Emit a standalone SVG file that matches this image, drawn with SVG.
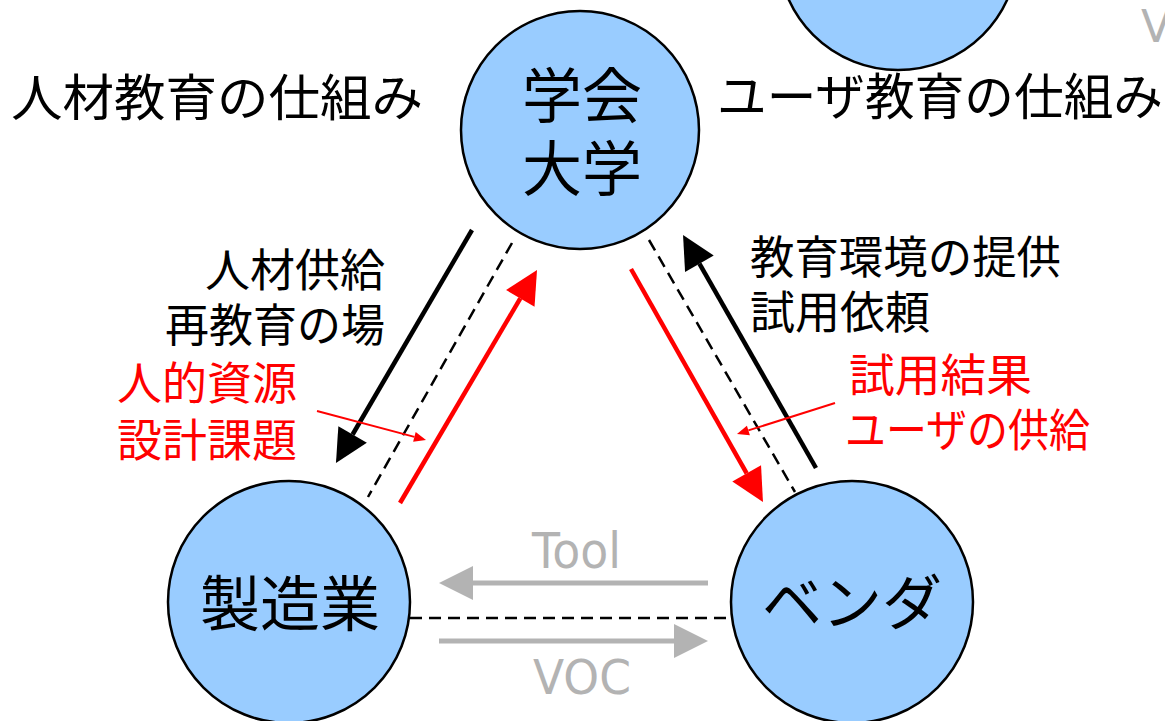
<svg xmlns="http://www.w3.org/2000/svg" width="1165" height="721" viewBox="0 0 1165 721">
<style>
.node{fill:#99CCFF;stroke:#000;stroke-width:2.5}
.jp{font-family:"Noto Sans CJK JP","Noto Sans",sans-serif}
.big{font-size:60px;fill:#000}
.title{font-size:50px;fill:#000}
.lbl{font-size:45px;fill:#000}
.red{fill:#FF0000}
.lat{font-family:"DejaVu Sans","Liberation Sans",sans-serif;fill:#B3B3B3}
.dash{stroke:#000;stroke-width:2.5;stroke-dasharray:12 7;fill:none}
.blk{stroke:#000;stroke-width:4.5;fill:none}
.rdk{stroke:#FF0000;stroke-width:4.5;fill:none}
.rdt{stroke:#FF0000;stroke-width:2;fill:none}
.gry{stroke:#B3B3B3;stroke-width:5;fill:none}
</style>
<defs>
<marker id="hBlack" markerUnits="userSpaceOnUse" markerWidth="34" markerHeight="34" refX="0" refY="16.5" orient="auto" overflow="visible"><path d="M0,0 L33,16.5 L0,33 z" fill="#000"/></marker>
<marker id="hRed" markerUnits="userSpaceOnUse" markerWidth="34" markerHeight="34" refX="0" refY="16.5" orient="auto" overflow="visible"><path d="M0,0 L33,16.5 L0,33 z" fill="#FF0000"/></marker>
<marker id="hRedThin" markerUnits="userSpaceOnUse" markerWidth="13" markerHeight="11" refX="0" refY="5" orient="auto" overflow="visible"><path d="M0,0 L12,5 L0,10 z" fill="#FF0000"/></marker>
<marker id="hGray" markerUnits="userSpaceOnUse" markerWidth="35" markerHeight="35" refX="0" refY="17" orient="auto" overflow="visible"><path d="M0,0 L34,17 L0,34 z" fill="#B3B3B3"/></marker>
</defs>
<rect width="1165" height="721" fill="#fff"/>

<g id="node-topright">
<circle class="node" cx="898" cy="-50" r="120"/>
</g>
<g id="node-academia">
<circle class="node" cx="580" cy="130" r="119"/>
<text class="jp big" x="582" y="118" text-anchor="middle">学会</text>
<text class="jp big" x="582" y="191" text-anchor="middle">大学</text>
</g>
<g id="node-manufacturing">
<circle class="node" cx="289" cy="602" r="121"/>
<text class="jp big" x="290" y="626" text-anchor="middle">製造業</text>
</g>
<g id="node-vendor">
<circle class="node" cx="852" cy="602" r="121"/>
<text class="jp big" x="852" y="625" text-anchor="middle">ベンダ</text>
</g>

<g id="connectors">
<line class="dash" x1="512" y1="243" x2="368" y2="497"/>
<line class="dash" x1="649" y1="240" x2="795" y2="492"/>
<line class="dash" x1="410" y1="618" x2="731" y2="618"/>
<line class="blk" x1="472" y1="230" x2="352.6" y2="434.5" marker-end="url(#hBlack)"/>
<line class="rdk" x1="400" y1="503" x2="520.3" y2="298.4" marker-end="url(#hRed)"/>
<line class="blk" x1="816" y1="468" x2="699.4" y2="263.7" marker-end="url(#hBlack)"/>
<line class="rdk" x1="631" y1="269" x2="746.7" y2="473.3" marker-end="url(#hRed)"/>
<line class="rdt" x1="317" y1="411" x2="414.4" y2="436.9" marker-end="url(#hRedThin)"/>
<line class="rdt" x1="835" y1="403" x2="748.4" y2="430.4" marker-end="url(#hRedThin)"/>
<line class="gry" x1="708" y1="583" x2="473" y2="583" marker-end="url(#hGray)"/>
<line class="gry" x1="439" y1="641" x2="674" y2="641" marker-end="url(#hGray)"/>
</g>

<g id="labels">
<text class="jp title" x="11" y="116" textLength="412" lengthAdjust="spacingAndGlyphs">人材教育の仕組み</text>
<text class="jp title" x="717" y="115" textLength="446" lengthAdjust="spacingAndGlyphs">ユーザ教育の仕組み</text>
<text class="jp lbl" x="385" y="287" text-anchor="end">人材供給</text>
<text class="jp lbl" x="385" y="342" text-anchor="end" textLength="220" lengthAdjust="spacingAndGlyphs">再教育の場</text>
<text class="jp lbl red" x="117" y="400">人的資源</text>
<text class="jp lbl red" x="117" y="457">設計課題</text>
<text class="jp lbl" x="750" y="274" textLength="311" lengthAdjust="spacingAndGlyphs">教育環境の提供</text>
<text class="jp lbl" x="750" y="329">試用依頼</text>
<text class="jp lbl red" x="849" y="392" textLength="183" lengthAdjust="spacingAndGlyphs">試用結果</text>
<text class="jp lbl red" x="845" y="447" textLength="245" lengthAdjust="spacingAndGlyphs">ユーザの供給</text>
<text class="lat" x="532" y="568" font-size="49" textLength="89" lengthAdjust="spacingAndGlyphs">Tool</text>
<text class="lat" x="533" y="694" font-size="48" textLength="98" lengthAdjust="spacingAndGlyphs">VOC</text>
<text class="lat" x="1141" y="42" font-size="44">V</text>
</g>
</svg>
